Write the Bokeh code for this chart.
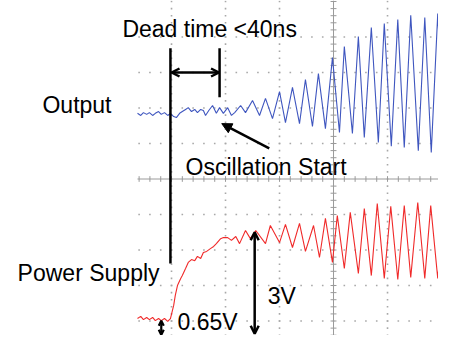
import numpy as np
from bokeh.plotting import figure
from bokeh.models import Range1d, Label, Arrow, OpenHead, NormalHead
from bokeh.embed import file_html
from bokeh.resources import INLINE

# Oscilloscope traces (units: screen divisions,
# time axis relative to the centre graticule line, volts axis relative to centre)
out_t = [-3.63, -3.57, -3.52, -3.46, -3.41, -3.35, -3.30, -3.24, -3.19, -3.13,
         -3.07, -3.02, -2.96, -2.91, -2.85, -2.80, -2.74, -2.69, -2.63, -2.57,
         -2.52, -2.46, -2.41, -2.37, -2.31, -2.24, -2.17, -2.11, -2.04, -1.96,
         -1.89, -1.83, -1.72, -1.63, -1.50, -1.37, -1.26, -1.13, -1.00, -0.89,
         -0.76, -0.63, -0.52, -0.39, -0.28, -0.15, -0.02, 0.11, 0.20, 0.35,
         0.46, 0.57, 0.70, 0.83, 0.94, 1.07, 1.19, 1.31, 1.43, 1.57,
         1.69, 1.81, 1.93, 2.06, 2.17]
out_v = [1.85, 1.79, 1.87, 1.82, 1.87, 1.79, 1.85, 1.90, 1.82, 1.87,
         1.79, 1.85, 1.76, 1.73, 1.85, 1.90, 1.96, 2.01, 1.90, 1.96,
         1.87, 1.96, 1.93, 1.79, 1.93, 2.07, 1.85, 2.01, 1.85, 2.01,
         1.79, 1.87, 2.07, 1.87, 2.21, 1.79, 2.27, 1.70, 2.46, 1.59,
         2.58, 1.56, 2.80, 1.48, 2.97, 1.42, 3.42, 1.31, 3.73, 1.28,
         4.01, 1.17, 4.27, 1.03, 4.38, 0.92, 4.49, 0.89, 4.61, 0.80,
         4.55, 0.75, 4.66, 0.72, 4.61]

ps_t = [-3.63, -3.57, -3.52, -3.46, -3.41, -3.35, -3.30, -3.24, -3.19, -3.13,
        -3.07, -3.02, -2.96, -2.93, -2.89, -2.83, -2.80, -2.74, -2.69, -2.63,
        -2.57, -2.52, -2.46, -2.41, -2.35, -2.28, -2.22, -2.17, -2.09, -2.04,
        -1.96, -1.89, -1.81, -1.74, -1.63, -1.54, -1.44, -1.26, -1.17, -1.00,
        -0.89, -0.76, -0.63, -0.52, -0.37, -0.26, -0.15, -0.02, 0.07, 0.20,
        0.31, 0.46, 0.57, 0.70, 0.81, 0.94, 1.06, 1.19, 1.31, 1.43,
        1.56, 1.69, 1.80, 1.93, 2.06, 2.17]
ps_v = [-3.93, -3.87, -3.96, -3.90, -3.96, -3.90, -3.99, -3.93, -3.99, -3.93,
        -4.01, -3.93, -3.56, -3.28, -3.00, -2.80, -2.72, -2.52, -2.35, -2.27,
        -2.30, -2.18, -2.24, -2.07, -2.04, -1.96, -1.90, -1.82, -1.68, -1.65,
        -1.65, -1.73, -1.62, -1.82, -1.45, -1.68, -1.45, -1.82, -1.31, -1.79,
        -1.28, -1.93, -1.25, -2.04, -1.31, -2.21, -1.11, -2.35, -1.03, -2.52,
        -0.94, -2.66, -0.83, -2.72, -0.69, -2.80, -0.77, -2.83, -0.75, -2.77,
        -0.66, -2.80, -0.75, -2.80, -0.66, -2.75]

# Annotation texts
title_text = "Dead time <40ns"
out_label = "Output"
ps_label = "Power Supply"
osc_label = "Oscillation Start"
low_label = "0.65V"
amp_label = "3V"

# page is 454x351 with an 8px margin -> figure must fit 438x335
W, H = 438, 335
X0, X1 = -6.167, 1.944
Y0, Y1 = -4.408, 5.028
GRID_LEFT = -3.63

p = figure(width=W, height=H, x_range=Range1d(X0, X1), y_range=Range1d(Y0, Y1),
           x_axis_type=None, y_axis_type=None, output_backend="svg",
           toolbar_location=None, min_border=0)
p.outline_line_color = None
p.grid.visible = False

# graticule dots
dot_col = "#a8a8a8"
gx = np.round(np.arange(-3.6, 2.01, 0.2), 2)
gy = np.round(np.arange(-4.4, 5.01, 0.2), 2)
hx, hy = [], []
for yl in [-4, -3, -2, -1, 1, 2, 3, 4]:
    hx += list(gx); hy += [yl] * len(gx)
for xl in [-3, -2, -1, 1]:
    hx += [xl] * len(gy); hy += list(gy)
p.scatter(hx, hy, marker="square", size=1.6, fill_color=dot_col, line_color=None)

# centre axes with ticks
ax_col = "#9a9a9a"
p.segment(x0=[GRID_LEFT, 0], y0=[0, Y0], x1=[X1, 0], y1=[0, Y1], line_color=ax_col, line_width=1)
p.segment(x0=gx, y0=-0.08, x1=gx, y1=0.08, line_color=ax_col, line_width=1)
p.segment(x0=-0.055, y0=gy, x1=0.055, y1=gy, line_color=ax_col, line_width=1)

# traces
p.line(out_t, out_v, line_color="#3f56bf", line_width=1.1)
p.line(ps_t, ps_v, line_color="#f02a2a", line_width=1.1)

# annotation lines
p.segment(x0=[-3.02, -2.11], y0=[3.68, 3.68], x1=[-3.02, -2.11], y1=[-2.38, 2.30],
          line_color="black", line_width=2.5)

def dbl(xs, ys, xe, ye, s=8, lw=2.5):
    p.add_layout(Arrow(start=OpenHead(size=s, line_width=lw), end=OpenHead(size=s, line_width=lw),
                       x_start=xs, y_start=ys, x_end=xe, y_end=ye, line_width=lw))

dbl(-3.0, 3.0, -2.12, 3.0)
dbl(-1.46, -1.50, -1.46, -4.36)
dbl(-3.19, -3.99, -3.19, -4.39, s=5, lw=2.2)
p.add_layout(Arrow(end=NormalHead(size=10, fill_color="black", line_color="black"),
                   x_start=-1.19, y_start=0.86, x_end=-2.07, y_end=1.56, line_width=2.5))

font = "Liberation Sans"
for txt, x, y in [(title_text, -3.91, 4.235), (out_label, -5.39, 2.075), (ps_label, -5.85, -2.635),
                  (osc_label, -2.74, 0.325), (low_label, -2.89, -4.04), (amp_label, -1.22, -3.285)]:
    p.add_layout(Label(x=x, y=y, text=txt, text_font=font, text_font_size="23px",
                       text_color="black", text_baseline="alphabetic", text_align="left"))

open("out.html", "w").write(file_html(p, INLINE))
